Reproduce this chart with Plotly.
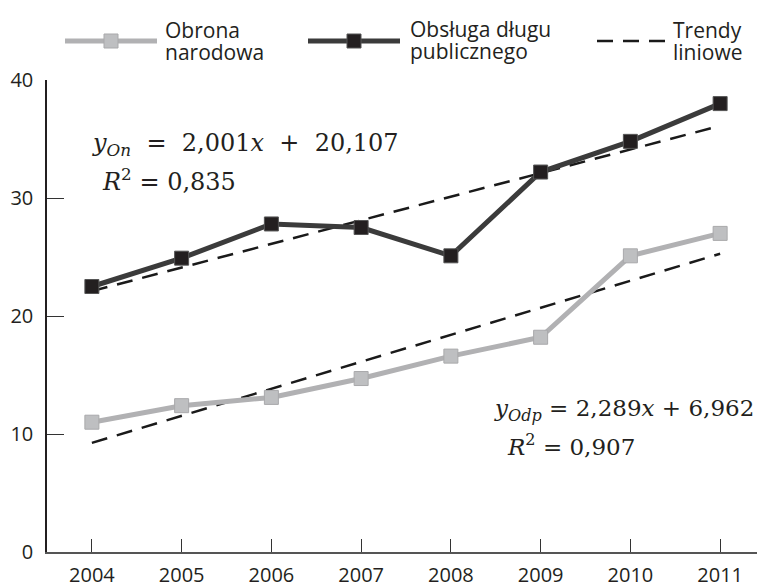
import plotly.graph_objects as go

years = [2004, 2005, 2006, 2007, 2008, 2009, 2010, 2011]
obrona = [11.0, 12.4, 13.1, 14.7, 16.6, 18.2, 25.1, 27.0]
dlug = [22.5, 24.9, 27.8, 27.5, 25.1, 32.2, 34.8, 38.0]
# trend coefficients as printed: y = a*x + b, x = 1..8
trend_dlug = (2.001, 20.107)
trend_obrona = (2.289, 6.962)
y_ticks = [0, 10, 20, 30, 40]

OFF = 8  # page body margin
W, H = 765 - OFF, 587 - OFF
L, R, T, B = 47 - OFF, 0, 80 - OFF, H - (552 - OFF)

LIGHT_LINE = "#b1b1b3"
LIGHT_MARK = "#bebfc1"
DARK_LINE = "#3b3b3b"
DARK_MARK = "#231f20"
DASH = "16px,10px"

fig = go.Figure()

xs_idx = list(range(1, len(years) + 1))
for (a, b) in (trend_dlug, trend_obrona):
    fig.add_trace(go.Scatter(
        x=years, y=[a * i + b for i in xs_idx], mode="lines",
        line=dict(color="#1a1a1a", width=2.5, dash=DASH),
        showlegend=False, hoverinfo="skip"))

fig.add_trace(go.Scatter(
    x=years, y=obrona, mode="lines+markers",
    line=dict(color=LIGHT_LINE, width=5),
    marker=dict(symbol="square", size=14, color=LIGHT_MARK,
                line=dict(color="#a9a9ab", width=1)),
    showlegend=False))
fig.add_trace(go.Scatter(
    x=years, y=dlug, mode="lines+markers",
    line=dict(color=DARK_LINE, width=5),
    marker=dict(symbol="square", size=14, color=DARK_MARK,
                line=dict(color="#555555", width=1)),
    showlegend=False))

pw = W - L - R
ph = H - T - B
# window pixel -> paper
def px(xw):
    return (xw - OFF - L) / pw
def py(yw):
    return (H - B - (yw - OFF)) / ph

shapes = []
annotations = []
sans = "Open Sans"
TXT = "#231f20"

def leg_line(x0, x1, y, color, width, dash="solid"):
    shapes.append(dict(type="line", xref="paper", yref="paper",
                       x0=px(x0), x1=px(x1), y0=py(y), y1=py(y),
                       line=dict(color=color, width=width, dash=dash)))
def leg_sq(cx, cy, s, fill, edge):
    shapes.append(dict(type="rect", xref="paper", yref="paper",
                       x0=px(cx - s / 2), x1=px(cx + s / 2),
                       y0=py(cy + s / 2), y1=py(cy - s / 2),
                       fillcolor=fill, line=dict(color=edge, width=1)))
def txt(x, y, t, family=sans, size=21):
    annotations.append(dict(xref="paper", yref="paper", x=px(x), y=py(y),
                            xanchor="left", yanchor="middle", text=t,
                            showarrow=False, align="left",
                            font=dict(family=family, size=size, color=TXT)))

leg_line(65, 157, 41, LIGHT_LINE, 5)
leg_sq(111, 41, 14, LIGHT_MARK, "#a9a9ab")
txt(163, 30, "Obrona")
txt(163, 52, "narodowa")
leg_line(308, 400, 41, DARK_LINE, 5)
leg_sq(354, 41, 14, DARK_MARK, "#555555")
txt(408, 29, "Obsługa długu")
txt(408, 51, "publicznego")
leg_line(597, 666, 41, "#1a1a1a", 2.5, DASH)
txt(671, 30, "Trendy")
txt(671, 52, "liniowe")

serif = "DejaVu Serif"
sp = "&nbsp;"
txt(90, 144, f"<i>y</i><sub><i>On</i></sub> {sp}={sp} 2,001<i>x</i> {sp}+{sp} 20,107", serif, 24)
txt(100, 180, "<i>R</i><sup>2</sup> = 0,835", serif, 24)
txt(492, 410, "<i>y</i><sub><i>Odp</i></sub> = 2,289<i>x</i> + 6,962", serif, 23)
txt(505, 445, "<i>R</i><sup>2</sup> = 0,907", serif, 23)

fig.update_layout(
    width=W, height=H,
    margin=dict(l=L, r=R, t=T, b=B, pad=0, autoexpand=False),
    paper_bgcolor="white", plot_bgcolor="white",
    shapes=shapes, annotations=annotations,
    xaxis=dict(range=[2003.5, 2011.5], tickvals=years,
               ticktext=[str(y) for y in years],
               ticks="inside", ticklen=13, tickcolor="#333333", tickwidth=1.3,
               showline=True, linecolor="#555555", linewidth=2,
               showgrid=False, zeroline=False, ticklabelstandoff=4,
               tickfont=dict(family=sans, size=20, color=TXT)),
    yaxis=dict(range=[0, 40], tickvals=y_ticks,
               ticks="inside", ticklen=17, tickcolor="#333333", tickwidth=1.3,
               showline=True, linecolor=TXT, linewidth=1.5,
               showgrid=False, zeroline=False, ticklabelstandoff=8,
               tickfont=dict(family=sans, size=20, color=TXT)),
)

fig.write_html("out.html")
